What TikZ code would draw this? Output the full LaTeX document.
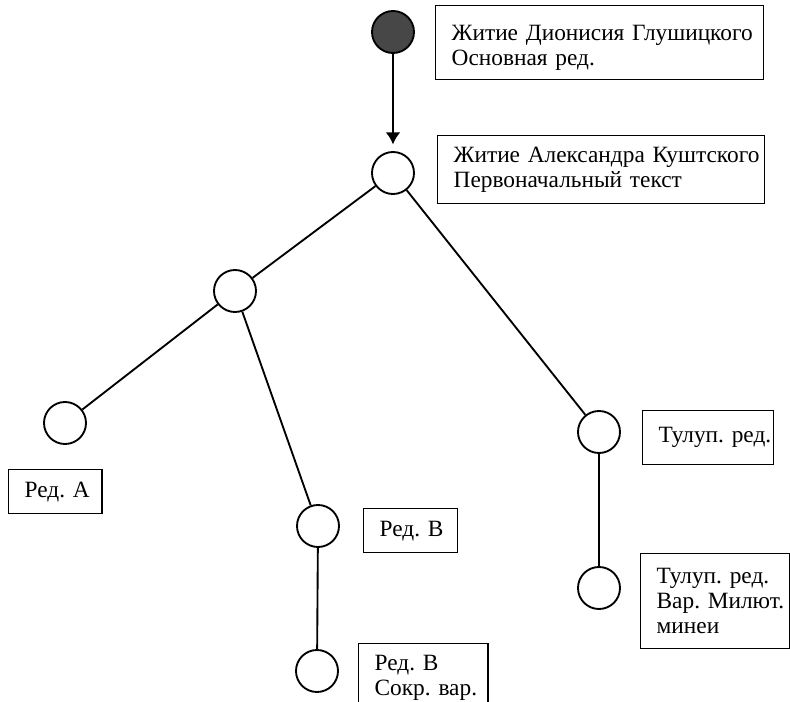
\documentclass[tikz,border=0pt]{standalone}
\usepackage{fontspec}
\setmainfont{Liberation Serif}
\usetikzlibrary{arrows.meta}

\begin{document}
\begin{tikzpicture}[x=0.75pt,y=-0.75pt,line width=1.4pt,
	vert/.style={circle,draw,minimum size=31.5pt,inner sep=0pt},
	tbox/.style={draw,line width=1pt,anchor=north west,align=left,inner xsep=12pt,inner ysep=0pt,font=\fontsize{17.5}{18.75}\selectfont}]

		\clip (0,0) rectangle (790,702);

		\node[vert,fill=black!72] (v0) at (393, 32) {};
		\node[vert] (v1) at (393,173) {};
		\node[vert] (v2) at (235,291) {};
		\node[vert] (v3) at ( 65,423) {};
		\node[vert] (v4) at (318,526) {};
		\node[vert] (v5) at (317,671) {};
		\node[vert] (v6) at (599,432) {};
		\node[vert] (v7) at (599,588) {};

		\node[tbox,text width=222pt,minimum height=55.5pt,text height=12.5pt,text depth=15.5pt] (t0) at (435,  5) {Житие~Дионисия~Глушицкого\\Основная~ред.};
		\node[tbox,text width=221pt,minimum height=51pt]   (t1) at (437,135) {Житие~Александра~Куштского\\Первоначальный~текст};
		\node[tbox,text width=46pt, minimum height=33pt]   (t3) at (  8,469) {Ред.~А};
		\node[tbox,text width=46.5pt,minimum height=33pt]  (t4) at (363,508) {Ред.~В};
		\node[tbox,text width=73pt, minimum height=51pt]   (t5) at (358,643) {Ред.~В\\Сокр.~вар.};
		\node[tbox,text width=74pt, minimum height=40.5pt] (t6) at (642,410) {Тулуп.~ред.};
		\node[tbox,text width=88pt, minimum height=71.25pt] (t7) at (640,553) {Тулуп.~ред.\\Вар.~Милют.\\минеи};

		\draw[-{Latex[length=9pt,width=11pt]},shorten >=5pt] (v0) to (v1);

		\draw[-] (v1) to (v2); \draw[-] (v1) to (v6);
		\draw[-] (v2) to (v3); \draw[-] (v2) to (v4);
		\draw[-] (v4) to (v5);
		\draw[-] (v6) to (v7);

	\end{tikzpicture}
\end{document}
